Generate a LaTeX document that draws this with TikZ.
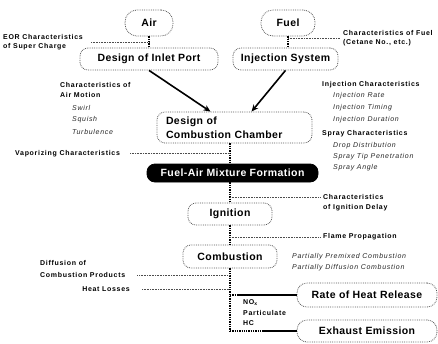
\documentclass[tikz,border=0pt]{standalone}
\usepackage{fontspec}
\setmainfont{Liberation Sans}
\newfontfamily\lblfont{Liberation Sans}[LetterSpace=10]
\newfontfamily\boxfont{Liberation Sans}[LetterSpace=4]
\usetikzlibrary{arrows.meta,calc}
\begin{document}
\begin{tikzpicture}[x=1pt,y=-1pt,
  box/.style={draw=black!65, densely dotted, line width=0.8pt, rounded corners=8pt, inner sep=0pt,
    font=\boxfont\fontsize{10.5}{12}\bfseries\selectfont},
  lbl/.style={font=\lblfont\fontsize{7}{9}\bfseries\selectfont, inner sep=0pt, anchor=west, align=left},
  sub/.style={font=\lblfont\fontsize{7}{9}\itshape\selectfont, inner sep=0pt, anchor=west, text=black!85},
  link/.style={densely dotted, line width=0.6pt, black!70},
  trunk/.style={densely dotted, line width=1.3pt},
  heavy/.style={line width=1.4pt},
  flow/.style={line width=1.6pt, -{Stealth[length=7pt,width=6pt]}},
]
\useasboundingbox (0,0) rectangle (438,343);

% main nodes
\node[box, minimum width=48pt, minimum height=26pt, rounded corners=12pt] (air) at (149,23) {Air};
\node[box, minimum width=54pt, minimum height=26pt, rounded corners=12pt] (fuel) at (288,23) {Fuel};
\node[box, minimum width=138pt, minimum height=22pt] (inlet) at (149,59) {Design of Inlet Port};
\node[box, minimum width=105pt, minimum height=22pt] (inj) at (285.5,59) {Injection System};
\node[box, text width=137pt, inner xsep=9pt, minimum height=31pt, align=left,
  font=\boxfont\fontsize{10.5}{14}\bfseries\selectfont] (cc) at (234.5,127.5) {Design of\\Combustion Chamber};
\node[box, draw=black, solid, fill=black, text=white, minimum width=171pt, minimum height=18pt] (mix) at (232.5,173) {Fuel-Air Mixture Formation};
\node[box, minimum width=84pt, minimum height=22pt] (ign) at (230,214) {Ignition};
\node[box, minimum width=94pt, minimum height=23pt] (comb) at (230,256.5) {Combustion};
\node[box, minimum width=140pt, minimum height=24pt, rounded corners=10pt] (rhr) at (367,295) {Rate of Heat Release};
\node[box, minimum width=140pt, minimum height=22pt, rounded corners=10pt] (exh) at (367,331) {Exhaust Emission};

% labels
\node[lbl] (eor) at (3,42.5) {EOR Characteristics\\of Super Charge};
\node[lbl] (fuelc) at (343,38.5) {Characteristics of Fuel\\(Cetane No., etc.)};
\node[lbl] (am1) at (60,85) {Characteristics of};
\node[lbl] (am2) at (60,95) {Air Motion};
\node[sub] (sw) at (72,108) {Swirl};
\node[sub] (sq) at (72,120) {Squish};
\node[sub] (tu) at (72,132) {Turbulence};
\node[lbl] (ic) at (322,85) {Injection Characteristics};
\node[sub] (ir) at (333,96) {Injection Rate};
\node[sub] (it) at (333,108) {Injection Timing};
\node[sub] (id) at (333,120) {Injection Duration};
\node[lbl] (sc) at (322,134) {Spray Characteristics};
\node[sub] (dd) at (333,146) {Drop Distribution};
\node[sub] (st) at (333,157) {Spray Tip Penetration};
\node[sub] (sa) at (333,168) {Spray Angle};
\node[lbl] (vap) at (15,154) {Vaporizing Characteristics};
\node[lbl] (idl1) at (323,197) {Characteristics};
\node[lbl] (idl2) at (323,208) {of Ignition Delay};
\node[lbl] (fp) at (323,237) {Flame Propagation};
\node[sub] (ppc) at (292,257) {Partially Premixed Combustion};
\node[sub] (pdc) at (292,268) {Partially Diffusion Combustion};
\node[lbl] (dif1) at (40,263) {Diffusion of};
\node[lbl] (dif2) at (40,275) {Combustion Products};
\node[lbl, anchor=east] (hl) at (130,289) {Heat Losses};
\node[lbl] (nox) at (243,303) {NO\textsubscript{x}};
\node[lbl] (pm) at (243,313) {Particulate};
\node[lbl] (hc) at (243,323) {HC};

% trunk lines
\draw[trunk] (air) -- (inlet);
\draw[trunk] (fuel.south) -- (fuel.south |- inj.north);
\draw[trunk] (cc.south -| ign.center) -- (mix.north -| ign.center);
\draw[trunk] (mix.south -| ign.center) -- (ign.north);
\draw[trunk] (ign.south) -- (comb.north);
\draw[trunk] (comb.south) -- (comb.south |- exh.west);
\draw[trunk] (comb.south |- exh.west) -- ($(exh.west)+(-34,0)$);
\draw[heavy] ($(exh.west)+(-34,0)$) -- (exh.west);
\draw[heavy] ($(rhr.west -| comb.south)+(8,0)$) -- (rhr.west);
\draw[trunk] (rhr.west -| comb.south) -- ($(rhr.west -| comb.south)+(8,0)$);

% arrows
\draw[flow] (inlet.south) -- ($(cc.north)+(-24,0)$);
\draw[flow] (inj.south) -- ($(cc.north)+(17,0)$);

% dotted links
\draw[link] ($(eor.east)+(8,0)$) -- (eor.east -| air.south);
\draw[link] (fuelc.west -| fuel.south) -- ($(fuelc.west)+(-3,0)$);
\draw[link] ($(vap.east)+(10,-1)$) -- ($(vap.east -| ign.center)+(0,-1)$);
\draw[link] (idl1.west -| ign.center) -- ($(idl1.west)+(-3,0)$);
\draw[link] (fp.west -| ign.center) -- ($(fp.west)+(-3,0)$);
\draw[link] ($(dif2.east)+(12,0)$) -- (dif2.east -| ign.center);
\draw[link] ($(hl.east)+(12,0)$) -- (hl.east -| ign.center);
\end{tikzpicture}
\end{document}
